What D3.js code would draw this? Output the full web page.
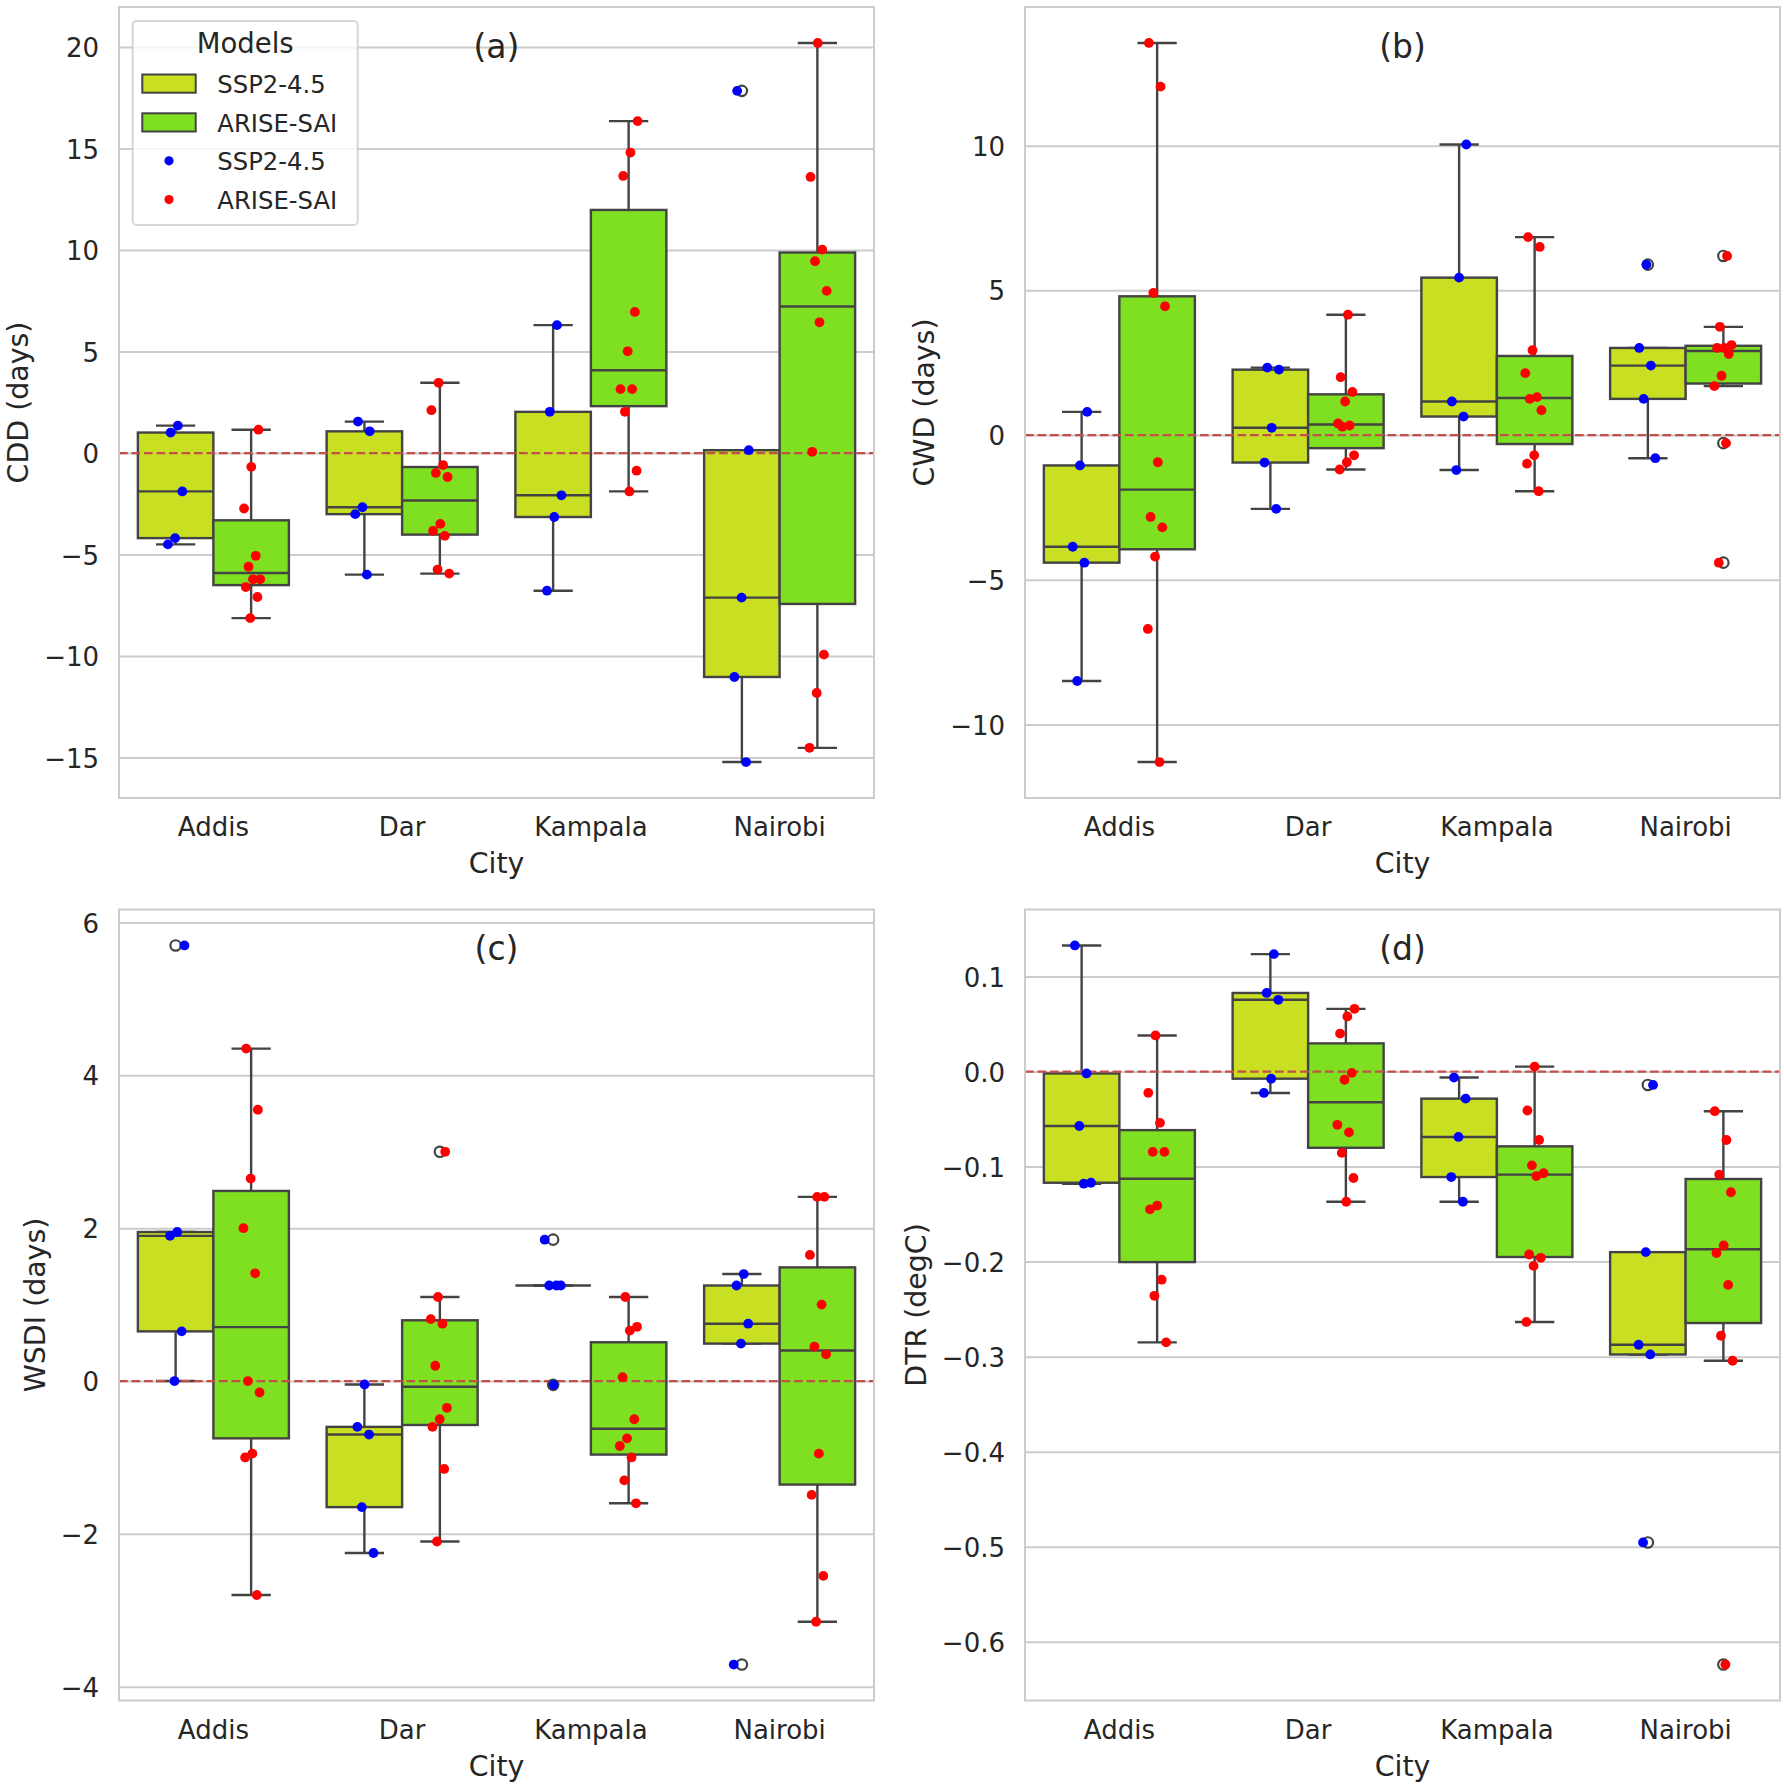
<!DOCTYPE html>
<html><head><meta charset="utf-8">
<script src="https://cdn.jsdelivr.net/npm/d3@7"></script>
<style>
body{margin:0;background:#fff}
svg{display:block}
text{font-family:"DejaVu Sans",sans-serif}
</style>
</head><body>
<svg id="chart" width="1784" height="1788"></svg>
<script>
// ---------------- DATA ----------------
const cities = ["Addis", "Dar", "Kampala", "Nairobi"];
const models = ["SSP2-4.5", "ARISE-SAI"];

// (a) CDD (days)
const cddSSP = [
  [1.35, 1.01, -1.89, -4.19, -4.5],
  [1.55, 1.07, -2.67, -3.01, -5.99],
  [6.3, 2.03, -2.08, -3.15, -6.78],
  [17.84, 0.14, -7.12, -11.03, -15.22]
];
const cddARISE = [
  [1.15, -0.68, -2.73, -5.06, -5.6, -6.22, -6.22, -6.6, -7.09, -8.13],
  [3.46, 2.11, -0.59, -0.98, -1.18, -3.49, -3.83, -4.08, -5.74, -5.94],
  [16.35, 14.8, 13.65, 6.95, 5.01, 3.15, 3.15, 2.03, -0.87, -1.89],
  [20.2, 13.6, 10.02, 9.45, 7.99, 6.44, 0.06, -9.93, -11.82, -14.52]
];
const cddTicks = [-15, -10, -5, 0, 5, 10, 15, 20];

// (b) CWD (days)
const cwdSSP = [
  [0.8, -1.05, -3.86, -4.41, -8.5],
  [2.33, 2.26, 0.25, -0.95, -2.55],
  [10.04, 5.44, 1.16, 0.64, -1.21],
  [5.89, 3.01, 2.4, 1.25, -0.8]
];
const cwdARISE = [
  [13.55, 12.04, 4.91, 4.45, -0.94, -2.83, -3.19, -4.2, -6.7, -11.3],
  [4.16, 2.0, 1.49, 1.16, 0.4, 0.33, 0.29, -0.7, -0.94, -1.19],
  [6.84, 6.5, 2.93, 2.14, 1.31, 1.25, 0.86, -0.7, -0.99, -1.94],
  [6.19, 3.74, 3.11, 3.01, 3.01, 2.8, 2.05, 1.69, -0.28, -4.41]
];
const cwdTicks = [-10, -5, 0, 5, 10];

// (c) WSDI (days)
const wsdiSSP = [
  [5.7, 1.95, 1.9, 0.65, 0.0],
  [-0.045, -0.6, -0.7, -1.65, -2.25],
  [1.85, 1.25, 1.25, 1.25, -0.05],
  [1.4, 1.25, 0.75, 0.49, -3.71]
];
const wsdiARISE = [
  [4.35, 3.55, 2.65, 2.0, 1.41, 0.0, -0.15, -0.95, -1.0, -2.8],
  [3.0, 1.1, 0.81, 0.75, 0.2, -0.35, -0.5, -0.6, -1.15, -2.1],
  [1.1, 0.71, 0.66, 0.05, -0.5, -0.75, -0.85, -1.0, -1.3, -1.6],
  [2.41, 2.41, 1.65, 1.0, 0.45, 0.35, -0.95, -1.49, -2.55, -3.15]
];
const wsdiTicks = [-4, -2, 0, 2, 4, 6];

// (d) DTR (degC)
const dtrSSP = [
  [0.1327, -0.002, -0.0573, -0.117, -0.118],
  [0.1236, 0.0827, 0.0755, -0.0075, -0.0225],
  [-0.0063, -0.0285, -0.0688, -0.111, -0.137],
  [-0.0141, -0.190, -0.2875, -0.2977, -0.4955]
];
const dtrARISE = [
  [0.038, -0.0224, -0.054, -0.0845, -0.0845, -0.141, -0.145, -0.219, -0.236, -0.285],
  [0.066, 0.058, 0.040, -0.0014, -0.0086, -0.056, -0.064, -0.0856, -0.112, -0.137],
  [0.0052, -0.041, -0.072, -0.0987, -0.107, -0.110, -0.1925, -0.196, -0.2045, -0.2635],
  [-0.0417, -0.072, -0.1084, -0.127, -0.183, -0.191, -0.2245, -0.278, -0.3043, -0.624]
];
const dtrTicks = [-0.6, -0.5, -0.4, -0.3, -0.2, -0.1, 0.0, 0.1];

const panelTags = ["(a)", "(b)", "(c)", "(d)"];
const yLabels = ["CDD (days)", "CWD (days)", "WSDI (days)", "DTR (degC)"];
const xLabel = "City";
const legendTitle = "Models";

// ---------------- STYLE ----------------
const boxColors = ["#c9df21", "#7fdf21"];
const dotColors = ["#0000ff", "#ff0000"];
const lineGray = "#434343";
const gridGray = "#cccccc";
const textColor = "#262626";
const TICK_FS = 26, LABEL_FS = 28.4, TAG_FS = 33, LEG_FS = 24.3, LEGT_FS = 27.5;
const frameX = [119, 1025], frameY = [7, 909.5];
const W = 755, H = 791;

const panels = [
  {ssp: cddSSP, arise: cddARISE, ticks: cddTicks, fmt: d3.format("d")},
  {ssp: cwdSSP, arise: cwdARISE, ticks: cwdTicks, fmt: d3.format("d")},
  {ssp: wsdiSSP, arise: wsdiARISE, ticks: wsdiTicks, fmt: d3.format("d")},
  {ssp: dtrSSP, arise: dtrARISE, ticks: dtrTicks, fmt: d3.format(".1f")}
];

function boxStats(vals) {
  const s = vals.slice().sort(d3.ascending);
  const q1 = d3.quantileSorted(s, 0.25), med = d3.quantileSorted(s, 0.5), q3 = d3.quantileSorted(s, 0.75);
  const iqr = q3 - q1;
  const hiF = q3 + 1.5 * iqr, loF = q1 - 1.5 * iqr;
  let whi = d3.max(s.filter(v => v <= hiF)); if (whi === undefined || whi < q3) whi = q3;
  let wlo = d3.min(s.filter(v => v >= loF)); if (wlo === undefined || wlo > q1) wlo = q1;
  const out = s.filter(v => v > whi || v < wlo);
  return {q1, med, q3, whi, wlo, out};
}

// deterministic strip jitter (position only)
function jitter(seed, i) {
  const f = ((i + 1) * 0.6180339887 + seed * 0.2718281828) % 1;
  return f - 0.5;
}

const svg = d3.select("#chart");
svg.append("rect").attr("width", 1784).attr("height", 1788).attr("fill", "#fff");

panels.forEach((p, pi) => {
  const fx = frameX[pi % 2], fy = frameY[Math.floor(pi / 2)];
  const g = svg.append("g");
  const all = p.ssp.flat().concat(p.arise.flat());
  const [mn, mx] = d3.extent(all);
  const pad = (mx - mn) * 0.05;
  const y = d3.scaleLinear().domain([mn - pad, mx + pad]).range([fy + H, fy]);
  const x = d3.scaleBand().domain(cities).range([fx, fx + W]);
  const hue = d3.scaleBand().domain(models).range([0.1 * x.bandwidth(), 0.9 * x.bandwidth()]);

  // y axis + grid
  const yAxis = g.append("g").attr("transform", `translate(${fx},0)`)
    .call(d3.axisLeft(y).tickValues(p.ticks).tickFormat(p.fmt).tickSize(-W).tickPadding(20));
  yAxis.select(".domain").remove();
  yAxis.attr("font-size", TICK_FS).attr("font-family", "DejaVu Sans").attr("color", textColor);
  yAxis.selectAll(".tick line").attr("stroke", gridGray).attr("stroke-width", 2);
  yAxis.selectAll(".tick text").attr("dy", "0.37em");

  // x axis
  const xAxis = g.append("g").attr("transform", `translate(0,${fy + H})`)
    .call(d3.axisBottom(x).tickSize(0).tickPadding(20));
  xAxis.select(".domain").remove();
  xAxis.attr("font-size", TICK_FS).attr("font-family", "DejaVu Sans").attr("color", textColor);

  const series = [p.ssp, p.arise];
  const bw = hue.bandwidth();
  const boxLayer = g.append("g");
  series.forEach((arr, j) => {
    arr.forEach((vals, i) => {
      const s = boxStats(vals);
      const bx = x(cities[i]) + hue(models[j]);
      const cx = bx + bw / 2;
      const bg = boxLayer.append("g").attr("stroke", lineGray).attr("stroke-width", 2.4);
      bg.append("line").attr("x1", cx).attr("x2", cx).attr("y1", y(s.whi)).attr("y2", y(s.q3));
      bg.append("line").attr("x1", cx).attr("x2", cx).attr("y1", y(s.q1)).attr("y2", y(s.wlo));
      [s.whi, s.wlo].forEach(v => {
        bg.append("line").attr("x1", cx - bw * 0.26).attr("x2", cx + bw * 0.26).attr("y1", y(v)).attr("y2", y(v));
      });
      bg.append("rect").attr("x", bx).attr("y", y(s.q3)).attr("width", bw)
        .attr("height", Math.max(0, y(s.q1) - y(s.q3))).attr("fill", boxColors[j]);
      bg.append("line").attr("x1", bx).attr("x2", bx + bw).attr("y1", y(s.med)).attr("y2", y(s.med));
    });
  });

  // zero reference line
  g.append("line").attr("x1", fx).attr("x2", fx + W).attr("y1", y(0)).attr("y2", y(0))
    .attr("stroke", "#c4504c").attr("stroke-width", 2.3).attr("stroke-dasharray", "8.7,3.8");

  // fliers
  series.forEach((arr, j) => {
    arr.forEach((vals, i) => {
      const s = boxStats(vals);
      const cx = x(cities[i]) + hue(models[j]) + bw / 2;
      g.selectAll(null).data(s.out).enter().append("circle")
        .attr("cx", cx).attr("cy", d => y(d)).attr("r", 5.2)
        .attr("fill", "none").attr("stroke", lineGray).attr("stroke-width", 2.2);
    });
  });

  // strip points
  series.forEach((arr, j) => {
    arr.forEach((vals, i) => {
      const cx = x(cities[i]) + hue(models[j]) + bw / 2;
      const seed = pi * 8 + i * 2 + j;
      g.selectAll(null).data(vals).enter().append("circle")
        .attr("cx", (d, k) => cx + jitter(seed, k) * 2 * 0.05 * x.bandwidth())
        .attr("cy", d => y(d)).attr("r", 4.9).attr("fill", dotColors[j]);
    });
  });

  // frame
  g.append("rect").attr("x", fx).attr("y", fy).attr("width", W).attr("height", H)
    .attr("fill", "none").attr("stroke", gridGray).attr("stroke-width", 2);

  // panel tag
  g.append("text").attr("x", fx + W / 2).attr("y", fy + 50.5).attr("text-anchor", "middle")
    .attr("font-size", TAG_FS).attr("fill", textColor).text(panelTags[pi]);

  // y label
  const maxTW = d3.max(yAxis.selectAll(".tick text").nodes(), n => n.getBBox().width);
  const lx = fx - 20 - maxTW - 9.4 - 0.236 * LABEL_FS;
  g.append("text").attr("transform", `translate(${lx},${fy + H / 2}) rotate(-90)`)
    .attr("text-anchor", "middle").attr("font-size", LABEL_FS).attr("fill", textColor).text(yLabels[pi]);

  // x label
  g.append("text").attr("x", fx + W / 2).attr("y", fy + H + 75).attr("text-anchor", "middle")
    .attr("font-size", LABEL_FS).attr("fill", textColor).text(xLabel);

  // legend (panel a)
  if (pi === 0) {
    const lg = g.append("g");
    lg.append("rect").attr("x", fx + 13.7).attr("y", fy + 14).attr("width", 225).attr("height", 204)
      .attr("rx", 4).attr("fill", "#fff").attr("fill-opacity", 0.8)
      .attr("stroke", "#cccccc").attr("stroke-opacity", 0.8).attr("stroke-width", 2);
    lg.append("text").attr("x", fx + 126.2).attr("y", fy + 46.3).attr("text-anchor", "middle")
      .attr("font-size", LEGT_FS).attr("fill", textColor).text(legendTitle);
    const rows = [
      {type: "patch", j: 0}, {type: "patch", j: 1}, {type: "dot", j: 0}, {type: "dot", j: 1}
    ];
    rows.forEach((r, k) => {
      const base = fy + 85.7 + k * 38.8;
      if (r.type === "patch") {
        lg.append("rect").attr("x", fx + 23.3).attr("y", base - 18.2).attr("width", 53.4).attr("height", 18.2)
          .attr("fill", boxColors[r.j]).attr("stroke", lineGray).attr("stroke-width", 2);
      } else {
        lg.append("circle").attr("cx", fx + 50).attr("cy", base - 9.5).attr("r", 4.6).attr("fill", dotColors[r.j]);
      }
      lg.append("text").attr("x", fx + 98.3).attr("y", base).attr("font-size", LEG_FS)
        .attr("fill", textColor).text(models[r.j]);
    });
  }
});
</script>
</body></html>
